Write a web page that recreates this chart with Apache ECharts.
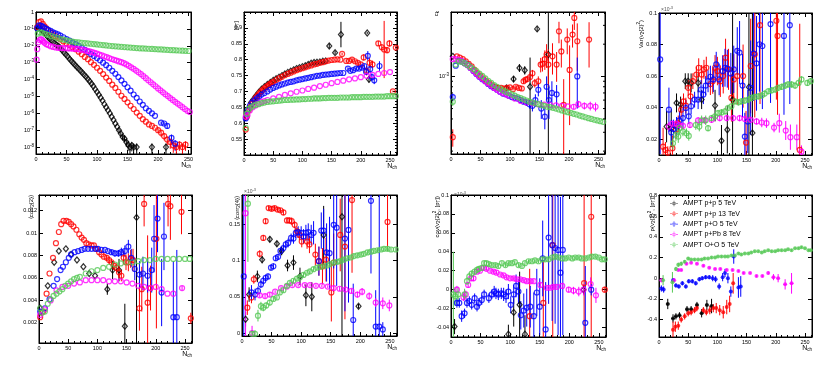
<!DOCTYPE html>
<html><head><meta charset="utf-8">
<script src="https://cdn.jsdelivr.net/npm/echarts@6/dist/echarts.min.js"></script>
<style>html,body{margin:0;padding:0;background:#fff}#c{width:830px;height:366px}</style>
</head><body><div id="c"></div><script>
// ---------------- data: [Nch, value, yErr, xErr] ----------------
const mult_pp5 = [[2,1.0e-1],[4,1.3e-1],[6,1.26e-1],[8,1.0e-1],[10,7.9e-2],[13,6.3e-2],[16,4.8e-2],[19,3.5e-2],[22,2.7e-2],[25,2.1e-2],[28,1.7e-2],[31,1.35e-2],[34,1.1e-2],[37,9.3e-3],[40,7.1e-3],[43,5.4e-3],[46,4.0e-3],[49,3.0e-3],[52,2.3e-3],[55,1.66e-3],[58,1.26e-3],[61,9.5e-4],[64,7.2e-4],[67,5.5e-4],[70,4.3e-4],[73,3.3e-4],[76,2.5e-4],[79,1.9e-4],[82,1.45e-4],[85,1.07e-4],[88,7.9e-5],[91,5.6e-5],[94,4.0e-5],[97,2.7e-5],[100,1.86e-5],[103,1.26e-5],[106,8.5e-6],[109,5.6e-6],[112,3.5e-6],[115,2.3e-6],[118,1.5e-6],[121,1.0e-6],[124,6.3e-7],[127,4.0e-7],[130,2.5e-7],[133,1.6e-7],[136,1.0e-7,3e-8],[139,6.3e-8,2e-8],[142,4.0e-8,1.5e-8],[145,3.2e-8,1.2e-8],[148,2.0e-8,1e-8],[151,1.4e-8,8e-9],[154,1.0e-8,6e-9],[157,1.26e-8,7e-9],[160,1.0e-8,6e-9],[165,1.0e-8,6e-9],[190,1.0e-8,6e-9],[213,1.0e-8,6e-9]];
const mult_pp13 = [[2,1.26e-1],[5,2.5e-1],[8,2.8e-1],[11,2.0e-1],[14,1.4e-1],[17,1.07e-1],[20,8.3e-2],[24,6.3e-2],[28,4.8e-2],[32,3.7e-2],[36,2.95e-2],[40,2.4e-2],[45,1.8e-2],[50,1.4e-2],[55,1.1e-2],[60,8.5e-3],[65,6.3e-3],[70,4.5e-3],[75,3.2e-3],[80,2.2e-3],[85,1.6e-3],[90,1.07e-3],[95,7.4e-4],[100,5.0e-4],[105,3.3e-4],[110,2.1e-4],[115,1.3e-4],[120,8.3e-5],[125,5.0e-5],[130,3.2e-5],[135,1.9e-5],[140,1.1e-5],[145,7.1e-6],[150,4.5e-6],[155,2.8e-6],[160,1.8e-6],[165,1.1e-6],[170,7.1e-7],[175,4.5e-7],[180,3.2e-7],[185,2.2e-7],[190,1.8e-7],[195,1.4e-7],[200,1.0e-7,3e-8],[205,7.1e-8,3e-8],[210,4.5e-8,2e-8],[215,2.8e-8,1.5e-8],[220,2.0e-8,1.2e-8],[225,1.26e-8,8e-9],[230,1.0e-8,6e-9],[235,1.4e-8,8e-9],[240,1.0e-8,6e-9],[245,1.4e-8,8e-9]];
const mult_pO = [[2,1.1e-1],[5,1.6e-1],[8,1.55e-1],[11,1.35e-1],[14,1.17e-1],[17,1.0e-1],[20,8.9e-2],[24,7.6e-2],[28,6.3e-2],[32,5.4e-2],[36,4.7e-2],[40,4.0e-2],[45,3.2e-2],[50,2.5e-2],[55,2.0e-2],[60,1.6e-2],[65,1.26e-2],[70,1.0e-2],[75,7.6e-3],[80,5.8e-3],[85,4.4e-3],[90,3.3e-3],[95,2.5e-3],[100,1.86e-3],[105,1.38e-3],[110,1.0e-3],[115,7.1e-4],[120,5.0e-4],[125,3.3e-4],[130,2.2e-4],[135,1.4e-4],[140,8.9e-5],[145,5.6e-5],[150,3.5e-5],[155,2.2e-5],[160,1.3e-5],[165,8.3e-6],[170,5.0e-6],[175,3.2e-6],[180,2.0e-6],[185,1.4e-6],[190,1.0e-6],[195,7.1e-7],[205,2.8e-7,5e-8],[210,2.5e-7,5e-8],[215,1.8e-7,6e-8],[222,3.5e-8,2e-8],[228,1.6e-8,1e-8]];
const mult_pPb = [[1,1.5e-3],[2,6.3e-3],[4,1.6e-2],[6,2.2e-2],[8,2.5e-2],[10,2.2e-2],[12,1.8e-2],[14,1.5e-2],[17,1.25e-2],[20,1.1e-2],[24,9.5e-3],[28,8.5e-3],[32,7.9e-3],[36,7.6e-3],[40,7.4e-3],[44,7.3e-3],[48,7.2e-3],[52,7.1e-3],[56,7.0e-3],[60,6.8e-3],[64,6.6e-3],[68,6.4e-3],[72,6.1e-3],[76,5.8e-3],[80,5.4e-3],[84,5.0e-3],[88,4.6e-3],[92,4.2e-3],[96,3.8e-3],[100,3.4e-3],[104,3.0e-3],[108,2.7e-3],[112,2.4e-3],[116,2.1e-3],[120,1.86e-3],[124,1.65e-3],[128,1.48e-3],[132,1.32e-3],[136,1.18e-3],[140,1.07e-3],[144,9.3e-4],[148,7.9e-4],[152,6.5e-4],[156,5.3e-4],[160,4.3e-4],[164,3.4e-4],[168,2.7e-4],[172,2.1e-4],[176,1.6e-4],[180,1.2e-4],[184,9.1e-5],[188,6.9e-5],[192,5.2e-5],[196,4.0e-5],[200,3.0e-5],[204,2.3e-5],[208,1.75e-5],[212,1.35e-5],[216,1.05e-5],[220,8.0e-6],[224,6.2e-6],[228,4.8e-6],[232,3.8e-6],[236,3.0e-6],[240,2.3e-6],[244,1.8e-6],[248,1.4e-6],[252,1.2e-6]];
const mult_OO = [[3,5.2e-2],[6,6.3e-2],[10,6.0e-2],[15,5.0e-2],[20,4.4e-2],[25,3.8e-2],[30,3.3e-2],[35,2.9e-2],[40,2.5e-2],[45,2.3e-2],[50,2.1e-2],[55,1.9e-2],[60,1.78e-2],[65,1.66e-2],[70,1.58e-2],[75,1.51e-2],[80,1.45e-2],[85,1.38e-2],[90,1.32e-2],[95,1.26e-2],[100,1.2e-2],[105,1.15e-2],[110,1.1e-2],[115,1.05e-2],[120,1.0e-2],[125,9.6e-3],[130,9.3e-3],[135,9.0e-3],[140,8.7e-3],[145,8.4e-3],[150,8.1e-3],[155,7.8e-3],[160,7.6e-3],[165,7.3e-3],[170,7.1e-3],[175,6.95e-3],[180,6.8e-3],[185,6.65e-3],[190,6.5e-3],[195,6.35e-3],[200,6.2e-3],[205,6.05e-3],[210,5.9e-3],[215,5.75e-3],[220,5.6e-3],[225,5.5e-3],[230,5.4e-3],[235,5.25e-3],[240,5.1e-3],[245,5.0e-3],[250,4.9e-3]];

const meanpt_pp5 = [[4,0.62],[8,0.645],[12,0.665],[16,0.675],[20,0.685],[25,0.697],[30,0.707],[35,0.715],[40,0.722],[45,0.728],[50,0.735],[55,0.74],[60,0.745],[65,0.75],[70,0.755],[75,0.76],[80,0.764],[85,0.768],[90,0.772],[95,0.775],[100,0.778],[105,0.781],[110,0.785],[115,0.789],[120,0.791],[125,0.792],[130,0.793],[135,0.795],[140,0.796],[146,0.843,0.008],[156,0.822,0.006],[166,0.879,0.04],[211,0.884,0.003],[214,0.738,0.01]];
const meanpt_pp13 = [[3,0.58],[5,0.62],[8,0.64],[10,0.65],[13,0.66],[15,0.665],[18,0.673],[20,0.68],[23,0.686],[25,0.691],[28,0.697],[30,0.701],[33,0.706],[35,0.71],[38,0.714],[40,0.717],[43,0.721],[45,0.724],[48,0.727],[50,0.73],[55,0.736],[60,0.741],[65,0.746],[70,0.751],[75,0.755],[80,0.759],[85,0.763],[90,0.767],[95,0.77],[100,0.773],[105,0.776],[110,0.779],[115,0.782],[120,0.785],[125,0.787],[130,0.79],[135,0.792],[140,0.795],[145,0.797],[150,0.799],[155,0.8],[160,0.801],[165,0.8],[168,0.818,0.004],[175,0.796,0.004],[180,0.796,0.004],[185,0.8,0.005],[190,0.795,0.005],[195,0.79,0.006],[200,0.785,0.006],[205,0.807,0.01],[210,0.765,0.015],[215,0.79,0.015],[220,0.785,0.012],[230,0.851,0.008],[236,0.839,0.01],[240,0.832,0.09],[245,0.83,0.01],[249,0.851,0.01],[255,0.70,0.003],[260,0.838,0.005]];
const meanpt_pO = [[3,0.615],[6,0.64],[10,0.655],[14,0.665],[18,0.672],[22,0.678],[26,0.684],[30,0.69],[35,0.695],[40,0.7],[45,0.706],[50,0.711],[55,0.715],[60,0.719],[65,0.722],[70,0.725],[75,0.728],[80,0.73],[85,0.732],[90,0.735],[95,0.737],[100,0.739],[105,0.741],[110,0.743],[115,0.745],[120,0.747],[125,0.749],[130,0.75],[135,0.752],[140,0.753],[145,0.754],[150,0.755],[155,0.756],[160,0.757],[165,0.758],[170,0.758],[178,0.772,0.004],[182,0.765,0.004],[187,0.767,0.004],[192,0.772,0.005],[197,0.772,0.005],[202,0.775,0.006],[206,0.78,0.006],[209,0.762,0.01],[212,0.812,0.015],[216,0.77,0.012],[219,0.745,0.012],[223,0.735,0.012],[232,0.78,0.015]];
const meanpt_pPb = [[3,0.62],[6,0.625],[10,0.64],[15,0.65],[20,0.656],[25,0.662],[30,0.667],[35,0.67],[40,0.673],[50,0.678],[60,0.683],[70,0.689],[80,0.694],[90,0.699],[100,0.703],[110,0.708],[120,0.712],[130,0.717],[140,0.721],[150,0.726],[160,0.73],[170,0.734],[180,0.738],[190,0.741],[200,0.745],[210,0.749],[220,0.752],[230,0.755],[240,0.758],[250,0.761]];
const meanpt_OO = [[3,0.585],[5,0.63],[8,0.645],[12,0.65],[16,0.655],[20,0.658],[25,0.66],[30,0.663],[35,0.665],[40,0.667],[45,0.668],[50,0.669],[55,0.67],[60,0.671],[65,0.672],[70,0.673],[75,0.673],[80,0.674],[85,0.674],[90,0.675],[95,0.675],[100,0.676],[105,0.676],[110,0.677],[115,0.677],[120,0.678],[125,0.678],[130,0.678],[135,0.679],[140,0.679],[145,0.68],[150,0.68],[155,0.68],[160,0.68],[165,0.681],[170,0.681],[175,0.681],[180,0.681],[185,0.682],[190,0.682],[195,0.682],[200,0.682],[205,0.683],[210,0.683],[215,0.683],[220,0.683],[225,0.684],[230,0.684],[235,0.684],[240,0.684],[245,0.685],[250,0.685],[255,0.685],[260,0.685]];

const ck_pp5 = [[3,1.54e-3],[94,0.778e-3,0.03e-3],[106,0.944e-3,0.06e-3],[116,1.2e-3,0.1e-3],[125,1.14e-3,0.1e-3],[134,0.8e-3,0.7e-3],[146,2.78e-3,0.15e-3],[165,1.6e-3,4e-3]];
const ck_pp13 = [[3,0.27e-3,0.05e-3],[10,1.54e-3],[15,1.5e-3],[20,1.45e-3],[25,1.38e-3],[30,1.31e-3],[35,1.24e-3],[40,1.15e-3],[45,1.07e-3],[50,1.01e-3],[55,0.95e-3],[60,0.9e-3],[65,0.86e-3],[70,0.82e-3],[75,0.8e-3],[80,0.78e-3],[85,0.78e-3],[90,0.77e-3],[95,0.78e-3],[100,0.79e-3],[105,0.76e-3,0.02e-3],[110,0.8e-3,0.03e-3],[115,0.78e-3,0.03e-3],[120,0.77e-3,0.04e-3],[123,0.9e-3,0.05e-3],[126,0.93e-3,0.05e-3],[129,0.944e-3,0.06e-3],[134,0.986e-3,0.07e-3],[138,1.07e-3,0.08e-3],[142,0.866e-3,0.08e-3],[148,0.9e-3,0.1e-3],[152,1.29e-3,0.2e-3],[155,1.31e-3,0.2e-3],[159,1.45e-3,0.3e-3],[162,1.6e-3,0.4e-3],[165,1.29e-3,0.5e-3],[172,1.54e-3,0.5e-3],[179,1.29e-3,0.4e-3],[183,2.64e-3,0.6e-3],[187,1.71e-3,0.5e-3],[191,0.542e-3,0.4e-3],[197,2.21e-3,0.6e-3],[201,1.15e-3,0.8e-3],[206,2.46e-3,0.6e-3],[209,3.52e-3,0.8e-3],[214,2.13e-3,1.0e-3],[234,2.21e-3,1.0e-3]];
const ck_pO = [[3,0.64e-3,0.05e-3],[8,1.26e-3],[13,1.4e-3],[18,1.38e-3],[23,1.33e-3],[28,1.28e-3],[33,1.2e-3],[38,1.12e-3],[43,1.05e-3],[48,0.99e-3],[53,0.94e-3],[58,0.9e-3],[63,0.85e-3],[68,0.81e-3],[73,0.78e-3],[78,0.75e-3],[83,0.72e-3],[88,0.69e-3],[93,0.68e-3],[98,0.66e-3],[103,0.64e-3],[108,0.63e-3],[113,0.62e-3],[118,0.6e-3,0.02e-3],[123,0.58e-3,0.03e-3],[128,0.57e-3,0.04e-3],[133,0.55e-3,0.05e-3],[138,0.53e-3,0.06e-3],[143,0.6e-3,0.08e-3],[148,0.75e-3,0.1e-3],[153,0.5e-3,0.1e-3],[159,0.42e-3,0.1e-3],[162,0.8e-3,0.2e-3],[166,0.6e-3,0.2e-3],[171,0.7e-3,0.2e-3],[179,0.68e-3,0.15e-3],[214,1.0e-3,0.5e-3]];
const ck_pPb = [[3,1.45e-3],[8,1.45e-3],[13,1.43e-3],[18,1.4e-3],[23,1.33e-3],[28,1.27e-3],[33,1.2e-3],[38,1.13e-3],[43,1.06e-3],[48,1.0e-3],[53,0.95e-3],[58,0.9e-3],[63,0.86e-3],[68,0.82e-3],[73,0.78e-3],[78,0.75e-3],[83,0.72e-3],[88,0.7e-3],[93,0.68e-3],[98,0.66e-3],[108,0.62e-3],[118,0.59e-3],[128,0.57e-3],[138,0.56e-3],[148,0.55e-3],[158,0.545e-3],[168,0.54e-3],[178,0.535e-3],[188,0.53e-3],[198,0.525e-3],[208,0.52e-3,0.03e-3],[216,0.55e-3,0.04e-3],[226,0.53e-3,0.04e-3],[236,0.53e-3,0.05e-3],[245,0.52e-3,0.05e-3]];
const ck_OO = [[3,0.58e-3,0.05e-3],[8,1.29e-3],[13,1.38e-3],[18,1.37e-3],[23,1.33e-3],[28,1.28e-3],[33,1.22e-3],[38,1.17e-3],[43,1.12e-3],[48,1.06e-3],[53,1.01e-3],[58,0.96e-3],[63,0.91e-3],[68,0.87e-3],[73,0.83e-3],[78,0.8e-3],[83,0.77e-3],[88,0.74e-3],[93,0.72e-3],[98,0.7e-3],[103,0.68e-3],[108,0.66e-3],[113,0.64e-3],[118,0.625e-3],[123,0.61e-3],[128,0.595e-3],[133,0.58e-3],[138,0.57e-3],[143,0.56e-3],[148,0.55e-3],[153,0.54e-3],[158,0.53e-3],[163,0.52e-3],[168,0.515e-3],[173,0.508e-3],[178,0.5e-3],[183,0.49e-3],[188,0.48e-3],[193,0.47e-3],[198,0.463e-3],[203,0.455e-3],[208,0.447e-3],[213,0.44e-3],[218,0.43e-3],[223,0.422e-3],[228,0.415e-3],[233,0.407e-3],[238,0.4e-3],[243,0.393e-3],[248,0.387e-3],[253,0.381e-3],[258,0.376e-3]];
const ck_minor_ticks = [2e-4,3e-4,4e-4,5e-4,6e-4,7e-4,8e-4,9e-4,2e-3,3e-3];

const varv2_pp5 = [[13,0.028,0.01],[21,0.027,0.012],[30,0.043,0.006],[37,0.042,0.005],[45,0.0568,0.005],[50,0.0568,0.005],[55,0.0557,0.006],[67,0.0557,0.006],[73,0.0451,0.006],[96,0.0413,0.01],[107,0.019,0.01],[117,0.026,0.015],[126,0.045,0.07],[154,0.053,0.08],[160,0.024,0.08]];
const varv2_pp13 = [[7,0.0153,0.012],[11,0.0132,0.005],[15,0.0115,0.004],[23,0.0143,0.008],[29,0.026,0.006],[33,0.03,0.005],[38,0.0387,0.005],[42,0.044,0.005],[46,0.0413,0.005],[50,0.0526,0.005],[54,0.0472,0.005],[58,0.0568,0.005],[64,0.061,0.005],[68,0.0653,0.006],[73,0.061,0.006],[77,0.0643,0.006],[81,0.0653,0.007],[88,0.055,0.007],[92,0.0568,0.008],[96,0.0653,0.008],[100,0.0632,0.009],[105,0.0568,0.01],[110,0.06,0.011],[114,0.0717,0.012],[119,0.0643,0.013],[124,0.0462,0.015],[128,0.0579,0.016],[134,0.06,0.018],[144,0.06,0.02],[149,0.0179,0.02],[157,0.0664,0.03],[164,0.0738,0.04],[173,0.0923,0.05],[201,0.0951,0.05],[203,0.0855,0.05],[241,0.0132,0.08]];
const varv2_pO = [[2,0.0706,0.06],[17,0.0387,0.014],[21,0.0243,0.008],[25,0.0264,0.006],[30,0.0281,0.006],[35,0.0319,0.006],[41,0.0334,0.006],[46,0.0398,0.005],[51,0.0345,0.005],[55,0.0409,0.005],[61,0.0451,0.005],[67,0.0451,0.006],[72,0.0515,0.006],[76,0.0483,0.006],[80,0.054,0.006],[84,0.0568,0.007],[88,0.0596,0.007],[93,0.0579,0.008],[98,0.0674,0.008],[103,0.0579,0.01],[109,0.0632,0.01],[113,0.0653,0.012],[117,0.0647,0.012],[123,0.0617,0.013],[128,0.0643,0.015],[134,0.076,0.015],[138,0.0749,0.02],[143,0.054,0.02],[147,0.0217,0.015],[152,0.0313,0.02],[157,0.0526,0.03],[162,0.0743,0.03],[167,0.0681,0.03],[172,0.0802,0.03],[177,0.0791,0.04],[191,0.093,0.05],[214,0.0855,0.05],[224,0.0923,0.05]];
const varv2_pPb = [[17,0.028,0.003],[23,0.0298,0.002],[30,0.0298,0.002],[34,0.029,0.002],[41,0.0285,0.002],[53,0.029,0.002],[67,0.032,0.002],[78,0.032,0.002],[90,0.0323,0.002],[104,0.0334,0.002],[116,0.0334,0.002],[127,0.0334,0.002],[138,0.0334,0.002],[147,0.0328,0.002],[157,0.0323,0.002],[167,0.0313,0.002],[176,0.0306,0.003],[184,0.0302,0.003],[197,0.0274,0.003],[206,0.0302,0.006],[217,0.0255,0.006],[225,0.0213,0.008],[236,0.0213,0.008],[244,0.0121,0.004]];
const varv2_OO = [[24,0.0174,0.004],[29,0.0228,0.004],[33,0.0217,0.004],[35,0.027,0.004],[41,0.0249,0.003],[47,0.0238,0.003],[51,0.0221,0.003],[63,0.029,0.003],[69,0.028,0.003],[73,0.032,0.003],[80,0.032,0.003],[84,0.027,0.002],[90,0.0334,0.002],[96,0.0345,0.002],[101,0.0366,0.002],[107,0.037,0.002],[113,0.0377,0.002],[118,0.0398,0.002],[124,0.0409,0.002],[130,0.044,0.002],[136,0.0434,0.002],[141,0.044,0.002],[147,0.0445,0.002],[153,0.0451,0.002],[158,0.0462,0.002],[164,0.0468,0.002],[170,0.0472,0.002],[176,0.0477,0.002],[181,0.0489,0.002],[187,0.0504,0.002],[193,0.051,0.002],[199,0.0515,0.002],[204,0.0526,0.002],[210,0.0532,0.002],[216,0.054,0.002],[221,0.0547,0.002],[227,0.0547,0.002],[233,0.054,0.002],[239,0.0557,0.002],[244,0.0579,0.002],[254,0.0557,0.002],[260,0.0568,0.002]];

const corr2_pp5 = [[2,0.0033],[15,0.0053],[26,0.0074],[34,0.0084],[46,0.0086],[55,0.0081],[65,0.0076],[76,0.007],[86,0.0064],[96,0.0062],[117,0.005,0.0005],[126,0.0067,0.0008],[137,0.0067,0.001],[147,0.0017,0.002],[167,0.0114,0.013]];
const corr2_pp13 = [[2,0.0025],[7,0.003],[13,0.0046],[18,0.0064],[24,0.0078],[29,0.0091],[34,0.0101],[38,0.0108],[42,0.0111],[47,0.0111],[51,0.011],[55,0.0108],[59,0.0106],[64,0.0103],[69,0.0099],[73,0.0096],[77,0.0094],[81,0.0091],[85,0.009],[90,0.0089],[94,0.0089],[98,0.0086],[103,0.0083],[107,0.0081],[111,0.0079],[116,0.0078,0.0002],[120,0.0076,0.0003],[124,0.0074,0.0003],[128,0.0071,0.0004],[133,0.0069,0.0004],[137,0.0065,0.0005],[141,0.0062,0.0005],[145,0.0078,0.0006],[149,0.0074,0.0007],[153,0.0074,0.0008],[157,0.0077,0.0008],[161,0.0076,0.001],[172,0.0033,0.002],[176,0.005,0.002],[180,0.0126,0.002],[186,0.0038,0.006],[191,0.0051,0.002],[201,0.0095,0.008],[221,0.0126,0.002],[225,0.0124,0.003],[244,0.0119,0.002],[260,0.0024,0.0005]];
const corr2_pO = [[2,0.003],[10,0.0033],[18,0.0041],[25,0.0053],[31,0.0059],[37,0.0067],[41,0.007],[46,0.0074],[51,0.0078],[55,0.0081],[61,0.0083],[67,0.0084],[73,0.0085],[78,0.0086],[84,0.0086],[90,0.0086],[96,0.0086],[101,0.0086],[107,0.0085],[113,0.0085],[118,0.0084],[124,0.0083,0.0002],[130,0.0082,0.0003],[136,0.0082,0.0003],[141,0.0083,0.0004],[147,0.0084,0.0005],[153,0.0088,0.0006],[158,0.0078,0.0008],[164,0.0068,0.001],[172,0.0063,0.0012],[178,0.0064,0.0015],[186,0.0062,0.0015],[193,0.0067,0.002],[197,0.0095,0.003],[203,0.0113,0.003],[210,0.0047,0.003],[214,0.0097,0.003],[230,0.0025,0.005],[236,0.0025,0.006]];
const corr2_pPb = [[2,0.0027],[10,0.0032],[20,0.004],[30,0.0049],[40,0.0052],[50,0.0053],[60,0.0055],[70,0.0056],[80,0.0058],[90,0.0058],[100,0.0058],[110,0.0058],[120,0.0057],[130,0.0057],[140,0.0057],[150,0.0056],[160,0.0055],[170,0.0053],[180,0.0052],[190,0.0051],[200,0.0052],[210,0.005],[220,0.0046],[230,0.0046],[245,0.0051,0.0002]];
const corr2_OO = [[2,0.0033],[5,0.0029],[10,0.003],[15,0.0037],[20,0.0041],[25,0.0044],[30,0.0046],[35,0.0048],[40,0.005],[45,0.0053],[50,0.0055],[55,0.0057],[60,0.0059],[65,0.006],[70,0.0061],[80,0.0064],[90,0.0066],[100,0.0067],[110,0.0069],[120,0.007],[130,0.0072],[140,0.0073],[150,0.0074],[160,0.0074],[170,0.0075],[180,0.0076],[190,0.0076],[200,0.0077],[210,0.0077],[220,0.0077],[230,0.0077],[240,0.0077],[250,0.0077],[258,0.0077]];

const corr4_pp5 = [[6,0.019,0.01],[12,0.053,0.01],[26,0.078,0.008],[34,0.101,0.005],[47,0.129,0.004],[59,0.123,0.004],[67,0.113,0.006],[77,0.093,0.008],[87,0.097,0.01],[98,0.078,0.012],[108,0.052,0.015],[118,0.05,0.02],[138,0.135,0.04],[169,0.16,0.25],[197,0.037,0.003]];
const corr4_pp13 = [[9,0.035,0.01],[16,0.049,0.008],[20,0.074,0.006],[30,0.109,0.005],[36,0.131,0.004],[40,0.154,0.004],[45,0.172,0.003],[50,0.171,0.003],[55,0.172,0.003],[60,0.17,0.003],[65,0.169,0.003],[70,0.166,0.004],[76,0.155,0.004],[80,0.155,0.004],[84,0.154,0.005],[89,0.149,0.005],[93,0.14,0.006],[97,0.135,0.007],[101,0.126,0.008],[110,0.126,0.01],[114,0.122,0.012],[124,0.108,0.015],[130,0.099,0.02],[136,0.092,0.025],[142,0.101,0.03],[151,0.056,0.04],[155,0.097,0.04],[166,0.135,0.05],[174,0.119,0.1],[186,0.183,0.1],[246,0.153,0.04]];
const corr4_pO = [[3,0.078,0.2],[16,0.056,0.01],[22,0.053,0.008],[27,0.058,0.006],[32,0.067,0.005],[36,0.072,0.005],[40,0.076,0.004],[44,0.078,0.004],[49,0.09,0.004],[53,0.092,0.004],[57,0.103,0.004],[61,0.105,0.004],[65,0.113,0.005],[70,0.117,0.005],[74,0.122,0.005],[78,0.124,0.006],[83,0.131,0.006],[87,0.13,0.007],[91,0.138,0.007],[95,0.139,0.008],[100,0.138,0.009],[104,0.133,0.01],[108,0.138,0.011],[112,0.139,0.012],[117,0.135,0.014],[121,0.138,0.016],[130,0.099,0.02],[134,0.141,0.025],[138,0.141,0.03],[143,0.111,0.04],[148,0.11,0.05],[155,0.149,0.06],[160,0.145,0.08],[174,0.13,0.1],[180,0.142,0.1],[188,0.018,0.05],[218,0.182,0.1],[226,0.009,0.05],[232,0.009,0.2],[238,0.005,0.01]];
const corr4_pPb = [[6,0.165,0.2],[17,0.0,0.01],[30,0.052,0.003],[39,0.051,0.003],[47,0.053,0.003],[56,0.057,0.002],[66,0.062,0.002],[76,0.064,0.002],[85,0.066,0.002],[95,0.066,0.002],[106,0.066,0.002],[115,0.066,0.002],[125,0.065,0.002],[135,0.065,0.002],[145,0.064,0.002],[155,0.062,0.003],[165,0.061,0.003],[175,0.06,0.003],[185,0.058,0.003],[195,0.053,0.004],[203,0.057,0.005],[215,0.051,0.005],[226,0.042,0.006],[238,0.041,0.008],[249,0.038,0.008]];
const corr4_OO = [[10,0.178,0.08],[17,-0.001,0.005],[22,-0.001,0.005],[27,0.024,0.008],[32,0.037,0.006],[36,0.035,0.005],[41,0.038,0.004],[47,0.042,0.004],[53,0.047,0.003],[59,0.049,0.003],[64,0.056,0.003],[70,0.059,0.003],[76,0.065,0.003],[81,0.069,0.003],[87,0.072,0.003],[93,0.075,0.003],[98,0.077,0.003],[104,0.08,0.003],[110,0.083,0.003],[115,0.085,0.003],[121,0.088,0.003],[127,0.09,0.003],[132,0.091,0.003],[138,0.092,0.003],[144,0.093,0.003],[149,0.095,0.003],[155,0.097,0.003],[161,0.098,0.003],[166,0.099,0.003],[172,0.101,0.003],[178,0.103,0.003],[184,0.104,0.003],[189,0.106,0.003],[195,0.107,0.003],[201,0.108,0.003],[206,0.109,0.003],[212,0.111,0.003],[218,0.112,0.003],[223,0.113,0.003],[229,0.114,0.003],[235,0.115,0.003],[240,0.116,0.003],[246,0.116,0.003],[252,0.115,0.003],[260,0.115,0.003]];

const cov_pp5 = [[6,-0.039,0.008],[97,-0.047,0.01],[106,-0.024,0.015],[116,-0.016,0.035],[125,-0.047,0.02],[224,0.0,0.005]];
const cov_pp13 = [[133,-0.028,0.05],[156,-0.014,0.045],[172,0.047,0.1],[225,0.007,0.15],[237,0.077,0.15],[260,0.0,0.003]];
const cov_pO = [[10,-0.014,0.005],[14,-0.014,0.005],[18,-0.028,0.006],[23,-0.025,0.005],[27,-0.014,0.005],[31,-0.012,0.005],[35,-0.016,0.005],[40,-0.009,0.005],[44,-0.018,0.005],[47,-0.014,0.005],[52,-0.011,0.005],[56,-0.005,0.005],[64,-0.009,0.005],[69,-0.005,0.005],[73,-0.002,0.006],[76,-0.004,0.006],[80,-0.005,0.006],[85,-0.004,0.006],[89,-0.005,0.007],[93,-0.007,0.007],[97,-0.002,0.008],[101,-0.016,0.009],[106,-0.005,0.01],[110,0.004,0.012],[114,-0.002,0.013],[118,-0.027,0.015],[123,-0.022,0.018],[128,-0.019,0.02],[134,-0.018,0.022],[140,-0.028,0.025],[145,-0.003,0.025],[150,-0.018,0.03],[155,0.033,0.04],[160,-0.042,0.05],[165,0.055,0.07],[171,0.047,0.08],[176,0.044,0.08],[181,0.042,0.09],[185,0.018,0.08],[189,0.042,0.09],[227,-0.035,0.06],[237,0.0,0.006]];
const cov_pPb = [[10,0.0,0.004],[21,-0.008,0.004],[25,-0.005,0.004],[29,0.005,0.003],[34,0.012,0.003],[38,0.012,0.003],[44,0.019,0.002],[49,0.02,0.002],[55,0.023,0.002],[60,0.022,0.002],[66,0.02,0.002],[72,0.019,0.002],[77,0.018,0.002],[83,0.016,0.002],[89,0.015,0.002],[94,0.013,0.002],[100,0.012,0.002],[106,0.012,0.002],[111,0.011,0.002],[117,0.011,0.002],[123,0.01,0.002],[128,0.009,0.002],[134,0.009,0.002],[140,0.009,0.002],[151,0.005,0.002],[162,0.002,0.002],[168,0.002,0.002],[173,0.003,0.002],[179,0.003,0.002],[188,0.004,0.003],[199,0.0,0.003],[207,-0.001,0.004],[216,-0.002,0.005],[224,0.0,0.006],[236,0.006,0.007],[245,-0.006,0.008]];
const cov_OO = [[4,-0.005,0.045],[7,-0.007,0.01],[12,-0.005,0.008],[23,-0.005,0.006],[27,0.009,0.004],[31,0.014,0.004],[35,0.017,0.003],[40,0.019,0.003],[44,0.021,0.003],[47,0.022,0.003],[52,0.023,0.002],[56,0.028,0.002],[60,0.028,0.002],[64,0.027,0.002],[69,0.026,0.002],[75,0.026,0.002],[80,0.025,0.002],[86,0.028,0.002],[92,0.026,0.002],[97,0.028,0.002],[103,0.028,0.002],[108,0.029,0.002],[114,0.026,0.002],[120,0.025,0.002],[125,0.028,0.002],[131,0.03,0.002],[137,0.03,0.002],[142,0.031,0.002],[148,0.03,0.002],[154,0.032,0.002],[159,0.032,0.002],[165,0.032,0.002],[171,0.034,0.002],[176,0.035,0.002],[182,0.034,0.002],[188,0.033,0.002],[193,0.033,0.002],[199,0.034,0.002],[205,0.033,0.002],[210,0.034,0.002],[216,0.034,0.002],[221,0.033,0.002],[227,0.033,0.002],[233,0.034,0.002],[238,0.035,0.002],[244,0.035,0.002],[250,0.034,0.002],[255,0.032,0.002],[260,0.032,0.002]];

const rho_pp5 = [[15,-0.25,0.05,3],[24,-0.39,0.04,3],[29,-0.37,0.03,3],[35,-0.36,0.03,3],[48,-0.30,0.03,3],[55,-0.30,0.03,3],[65,-0.26,0.03,3],[73,-0.34,0.04,3],[82,-0.26,0.05,3],[90,-0.27,0.07,3]];
const rho_pp13 = [[24,-0.50,0.08],[28,-0.47,0.05],[33,-0.46,0.04],[38,-0.40,0.03],[44,-0.37,0.03],[50,-0.34,0.03],[55,-0.33,0.03],[61,-0.31,0.03],[65,-0.29,0.03],[76,-0.31,0.03],[81,-0.33,0.03],[87,-0.31,0.04],[93,-0.29,0.04],[98,-0.29,0.05],[104,-0.31,0.05],[110,-0.33,0.06],[116,-0.28,0.07],[121,-0.25,0.08],[127,-0.05,0.1]];
const rho_pO = [[4,-0.10,0.03],[8,-0.11,0.03],[24,-0.02,0.02],[29,-0.07,0.02],[34,-0.08,0.02],[40,-0.05,0.02],[46,-0.08,0.02],[51,-0.03,0.02],[57,-0.03,0.02],[63,-0.05,0.02],[69,-0.01,0.02],[74,0.0,0.02],[80,0.01,0.02],[86,0.01,0.02],[92,0.0,0.03],[97,-0.01,0.03],[103,-0.08,0.03],[109,0.01,0.04],[113,0.05,0.04],[118,0.0,0.05],[123,-0.13,0.05],[128,0.21,0.07],[136,-0.09,0.1],[140,-0.08,0.1]];
const rho_pPb = [[4,-0.02,0.02],[26,-0.02,0.02],[33,0.08,0.01],[38,0.08,0.01],[47,0.14,0.01],[55,0.15,0.01],[65,0.14,0.01],[76,0.12,0.01],[86,0.10,0.01],[96,0.09,0.01],[105,0.09,0.01],[116,0.08,0.01],[126,0.08,0.01],[136,0.07,0.01],[145,0.05,0.01],[156,0.05,0.01],[167,0.02,0.01],[177,0.02,0.01],[187,0.05,0.015],[196,0.01,0.03,3],[204,0.0,0.04,3],[216,-0.06,0.05,3],[227,-0.05,0.1,3]];
const rho_OO = [[7,-0.02,0.05],[23,-0.04,0.1],[29,0.09,0.02],[33,0.13,0.02],[38,0.14,0.02],[44,0.16,0.015],[50,0.19,0.015],[55,0.18,0.01],[61,0.18,0.01],[67,0.18,0.01],[73,0.18,0.01],[78,0.19,0.01],[84,0.19,0.01],[90,0.2,0.01],[96,0.2,0.01],[101,0.21,0.01],[107,0.21,0.01],[113,0.21,0.01],[118,0.21,0.01],[124,0.22,0.01],[130,0.22,0.01],[136,0.24,0.01],[141,0.23,0.01],[147,0.24,0.01],[153,0.24,0.01],[158,0.25,0.01],[164,0.26,0.01],[170,0.26,0.01],[176,0.25,0.01],[181,0.26,0.01],[187,0.27,0.01],[193,0.26,0.01],[199,0.26,0.01],[204,0.27,0.01],[210,0.27,0.01],[216,0.27,0.01],[221,0.28,0.01],[227,0.27,0.01],[233,0.29,0.01],[239,0.29,0.01],[244,0.3,0.01],[250,0.29,0.01],[256,0.27,0.01],[260,0.27,0.01]];

// tick labels
const xTicks = [0,50,100,150,200,250];
const ticks_var = [0.02,0.04,0.06,0.08,0.1];
const ticks_corr2 = [0.002,0.004,0.006,0.008,0.01,0.012];
const ticks_corr4 = [0,0.05,0.1,0.15];
const ticks_cov = [-0.04,-0.02,0,0.02,0.04,0.06,0.08,0.1];
const ticks_rho = [-0.4,-0.2,0,0.2,0.4,0.6,0.8];

const KEYS = ['pp5','pp13','pO','pPb','OO'];
const NAMES = {pp5:'AMPT p+p 5 TeV', pp13:'AMPT p+p 13 TeV', pO:'AMPT p+O 5 TeV', pPb:'AMPT p+Pb 8 TeV', OO:'AMPT O+O 5 TeV'};
const COLORS = {pp5:'#000000', pp13:'#ff0000', pO:'#0000ff', pPb:'#ff00ff', OO:'#55c855'};
const FONT = 'Liberation Sans, Arial, Helvetica, sans-serif';

const PANELS = [
  {g:[36,12,155,142], xMax:254, log:true, yMin:3.9e-9, yMax:1, d:{pp5:mult_pp5,pp13:mult_pp13,pO:mult_pO,pPb:mult_pPb,OO:mult_OO}},
  {g:[244,12,153,143], xMax:262, yMin:0.5, yMax:0.95, yInt:0.05, hide:[0.5,0.95], d:{pp5:meanpt_pp5,pp13:meanpt_pp13,pO:meanpt_pO,pPb:meanpt_pPb,OO:meanpt_OO},
   title:'[p{sub|T}]', tp:[236,21]},
  {g:[451,12,154,142], xMax:261, log:true, yMin:1.88e-4, yMax:4.0e-3, d:{pp5:ck_pp5,pp13:ck_pp13,pO:ck_pO,pPb:ck_pPb,OO:ck_OO},
   title:'c{sub|k}', tp:[436,11], minor:ck_minor_ticks},
  {g:[659,13,153,142], xMax:262, yMin:0.01, yMax:0.1, ticks:ticks_var, d:{pp5:varv2_pp5,pp13:varv2_pp13,pO:varv2_pO,pPb:varv2_pPb,OO:varv2_OO},
   title:'Var(v{sub|2}{2}{sup|2})', tp:[641,20], mult:[661,10]},
  {g:[39,195,153,148], xMax:262, yMin:0.0002, yMax:0.0134, ticks:ticks_corr2, d:{pp5:corr2_pp5,pp13:corr2_pp13,pO:corr2_pO,pPb:corr2_pPb,OO:corr2_OO},
   title:'⟨corr{sub|2}{2}⟩', tp:[31,195]},
  {g:[242,195,155,141], xMax:262, yMin:-0.004, yMax:0.19, ticks:ticks_corr4, d:{pp5:corr4_pp5,pp13:corr4_pp13,pO:corr4_pO,pPb:corr4_pPb,OO:corr4_OO},
   title:'⟨corr{sub|2}{4}⟩', tp:[237,196], mult:[244,192]},
  {g:[451,195,155,142], xMax:262, yMin:-0.05, yMax:0.1, ticks:ticks_cov, d:{pp5:cov_pp5,pp13:cov_pp13,pO:cov_pO,pPb:cov_pPb,OO:cov_OO},
   title:'cov(v{sub|2}{2}{sup|2}, [p{sub|T}])', tp:[437,196], mult:[454,195]},
  {g:[659,195,153,142], xMax:262, yMin:-0.57, yMax:0.806, ticks:ticks_rho, d:{pp5:rho_pp5,pp13:rho_pp13,pO:rho_pO,pPb:rho_pPb,OO:rho_OO},
   title:'ρ(v{sub|2}{2}{sup|2}, [p{sub|T}])', tp:[652,196], filled:true}
];

const RICH = {
  sub:{fontSize:4.5, fontFamily:FONT, verticalAlign:'bottom', lineHeight:9},
  sup:{fontSize:4.5, fontFamily:FONT, verticalAlign:'top', lineHeight:9},
  e:{fontSize:4.5, fontFamily:FONT, verticalAlign:'top', lineHeight:8}
};

function numLab(v){ const s = parseFloat((+v).toPrecision(6)); return String(s); }
function logLab(v){
  const e = Math.round(Math.log10(v));
  if (Math.abs(v/Math.pow(10,e)-1) > 1e-3) return '';
  return e === 0 ? '1' : '10{e|' + e + '}';
}

const grids=[], xAxes=[], yAxes=[], series=[], graphics=[];
PANELS.forEach((p,i)=>{
  grids.push({left:p.g[0], top:p.g[1], width:p.g[2], height:p.g[3], show:true, borderColor:'#000', borderWidth:1, backgroundColor:'transparent'});
  const xBase = {type:'value', gridIndex:i, min:0, max:p.xMax, interval:50, splitLine:{show:false},
    axisLine:{show:true, onZero:false, lineStyle:{color:'#000', width:1}},
    axisTick:{show:true, inside:true, length:4, lineStyle:{color:'#000'}},
    minorTick:{show:true, splitNumber:5, length:2, lineStyle:{color:'#000'}}};
  xAxes.push(Object.assign({}, xBase, {position:'bottom',
    axisLabel:{show:true, color:'#000', fontSize:5.5, fontFamily:FONT, margin:2, showMaxLabel:true, showMinLabel:true,
      formatter:v => (xTicks.indexOf(v)>=0 ? String(v) : '')}}));
  xAxes.push(Object.assign({}, xBase, {position:'top', axisLabel:{show:false}}));
  let yBase;
  if (p.log) {
    yBase = {type:'log', logBase:10, gridIndex:i, min:p.yMin, max:p.yMax, splitLine:{show:false},
      axisLine:{show:true, onZero:false, lineStyle:{color:'#000'}},
      axisTick:{show:true, inside:true, length:4, lineStyle:{color:'#000'}}, minorTick:{show:false}};
  } else {
    yBase = {type:'value', gridIndex:i, min:p.yMin, max:p.yMax, splitLine:{show:false},
      axisLine:{show:true, onZero:false, lineStyle:{color:'#000'}},
      axisTick:{show:true, inside:true, length:4, lineStyle:{color:'#000'}}};
    if (p.yInt) { yBase.interval = p.yInt; yBase.minorTick = {show:true, splitNumber:5, length:2, lineStyle:{color:'#000'}}; }
    if (p.ticks) { yBase.axisTick = Object.assign({}, yBase.axisTick, {customValues:p.ticks}); }
  }
  const lab = {show:true, color:'#000', fontSize:5.5, fontFamily:FONT, margin:2, showMinLabel:true, showMaxLabel:true, rich:RICH};
  if (p.log) lab.formatter = logLab;
  else if (p.hide) lab.formatter = v => (p.hide.some(h=>Math.abs(h-v)<1e-9) ? '' : numLab(v));
  else lab.formatter = numLab;
  if (p.ticks) lab.customValues = p.ticks;
  yAxes.push(Object.assign({}, yBase, {position:'left', axisLabel:lab}));
  yAxes.push(Object.assign({}, yBase, {position:'right', axisLabel:{show:false}}));

  KEYS.forEach(k=>{
    const data = p.d[k]; const col = COLORS[k];
    const isLog = !!p.log; const yMin = p.yMin;
    series.push({type:'custom', name:'err'+i+k, xAxisIndex:2*i, yAxisIndex:2*i, data:data,
      dimensions:['x','y','e','ex'], encode:{x:0,y:1}, silent:true, animation:false, z:2,
      renderItem:function(params, api){
        const cs = params.coordSys; const ch=[];
        const x = api.value(0), y = api.value(1), e = api.value(2), ex = api.value(3);
        const cy = v => Math.max(cs.y, Math.min(cs.y+cs.height, v));
        const cx = v => Math.max(cs.x, Math.min(cs.x+cs.width, v));
        if (e > 0) {
          let lo = y - e, hi = y + e;
          if (isLog && lo <= yMin) lo = yMin;
          const a = api.coord([x, lo]), b = api.coord([x, hi]);
          ch.push({type:'line', shape:{x1:a[0], y1:cy(a[1]), x2:b[0], y2:cy(b[1])}, style:{stroke:col, lineWidth:1}});
        }
        if (ex > 0) {
          const a = api.coord([x-ex, y]), b = api.coord([x+ex, y]);
          ch.push({type:'line', shape:{x1:cx(a[0]), y1:a[1], x2:cx(b[0]), y2:b[1]}, style:{stroke:col, lineWidth:1}});
        }
        return {type:'group', children:ch};
      }});
    const filled = !!p.filled;
    series.push({type:'scatter', name: filled ? NAMES[k] : ('s'+i+k), xAxisIndex:2*i, yAxisIndex:2*i,
      data:data.map(r=>[r[0], r[1]]), animation:false, silent:true, z:2, clip:true,
      symbol: filled ? 'circle' : (k==='pp5' ? 'diamond' : 'circle'),
      symbolSize: filled ? 4 : (k==='pp5' ? [5,6] : 5),
      itemStyle: filled ? {color:col, borderWidth:0} : {color:'rgba(0,0,0,0)', borderColor:col, borderWidth:1.2}});
  });

  if (p.minor) {
    series.push({type:'custom', name:'minor'+i, xAxisIndex:2*i, yAxisIndex:2*i, data:p.minor.map(v=>[0,v]),
      encode:{x:0,y:1}, silent:true, animation:false, z:3,
      renderItem:function(params, api){
        const cs = params.coordSys; const c = api.coord([0, api.value(1)]);
        return {type:'group', children:[
          {type:'line', shape:{x1:cs.x, y1:c[1], x2:cs.x+2, y2:c[1]}, style:{stroke:'#000', lineWidth:1}},
          {type:'line', shape:{x1:cs.x+cs.width-2, y1:c[1], x2:cs.x+cs.width, y2:c[1]}, style:{stroke:'#000', lineWidth:1}}]};
      }});
  }

  graphics.push({type:'text', x:p.g[0]+p.g[2], y:p.g[1]+p.g[3]+11, silent:true,
    style:{text:'N{sub|ch}', fill:'#000', fontSize:7, fontFamily:FONT, align:'right', verticalAlign:'middle', lineHeight:9, rich:RICH}});
  if (p.title) {
    graphics.push({type:'text', x:p.tp[0], y:p.tp[1], rotation:Math.PI/2, silent:true,
      style:{text:p.title, fill:'#000', fontSize:6, fontFamily:FONT, align:'right', verticalAlign:'middle', lineHeight:9, rich:RICH}});
  }
  if (p.mult) {
    graphics.push({type:'text', x:p.mult[0], y:p.mult[1], silent:true,
      style:{text:'×10{sup|-3}', fill:'#555', fontSize:5, fontFamily:FONT, align:'left', verticalAlign:'middle', lineHeight:8, rich:{sup:{fontSize:4, fontFamily:FONT, verticalAlign:'top', lineHeight:8, fill:'#555'}}}});
  }
});

const legendIcon = 'path://M0,4.6h10v0.8h-10z M4.6,1.5h0.8v7h-0.8z M2.8,5a2.2,2.2 0 1 0 4.4,0a2.2,2.2 0 1 0 -4.4,0z';
const option = {
  animation:false,
  backgroundColor:'#fff',
  grid:grids, xAxis:xAxes, yAxis:yAxes, series:series,
  legend:{show:true, orient:'vertical', left:665, top:195, itemGap:3.3, itemWidth:8, itemHeight:7, selectedMode:false,
    textStyle:{fontSize:7, color:'#000', fontFamily:FONT, lineHeight:7},
    data:KEYS.map(k=>({name:NAMES[k], icon:legendIcon}))},
  graphic:graphics
};
const chart = echarts.init(document.getElementById('c'), null, {renderer:'canvas'});
chart.setOption(option);
</script></body></html>
